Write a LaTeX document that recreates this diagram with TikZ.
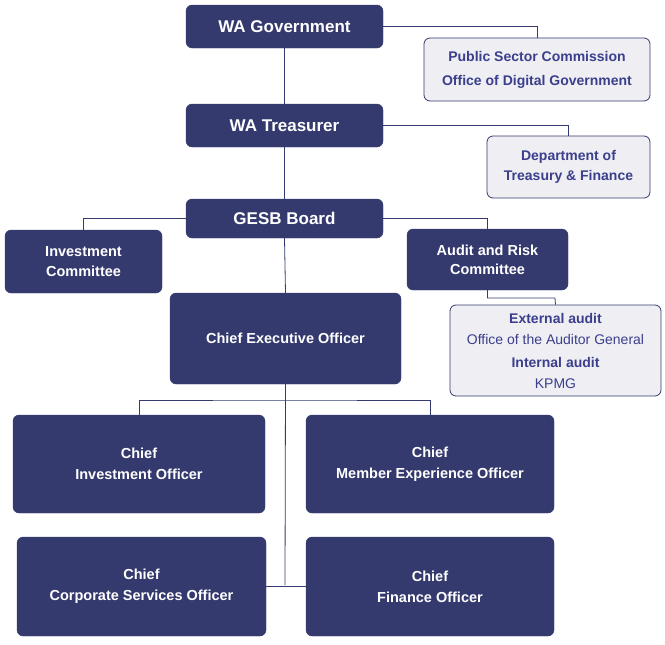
\documentclass[tikz,border=0pt]{standalone}
\usepackage{fontspec}
\setmainfont{Liberation Sans}
\definecolor{navy}{HTML}{343A6E}
\definecolor{paleg}{HTML}{EEEEF3}
\definecolor{inktxt}{HTML}{3B3F8C}
\tikzset{
  dark/.style={draw=navy, fill=navy, rounded corners=6pt, text=white, font=\bfseries, align=center, inner sep=0pt},
  pale/.style={draw=navy, fill=paleg, rounded corners=6pt, text=inktxt, align=center, inner sep=0pt, line width=0.8pt},
  link/.style={draw=navy, line width=0.8pt}
}
\begin{document}
\begin{tikzpicture}[x=1pt, y=-1pt]
				\useasboundingbox (0,0) rectangle (665,645);
				% top chain
				\node[dark, minimum width=197pt, minimum height=43pt, font=\bfseries\fontsize{17}{20}\selectfont] (gov) at (284.5,26.5) {WA Government};
				\node[dark, minimum width=197pt, minimum height=43pt, font=\bfseries\fontsize{17}{20}\selectfont] (treas) at (284.5,125.5) {WA Treasurer};
				\node[dark, minimum width=197pt, minimum height=39pt, font=\bfseries\fontsize{17}{20}\selectfont] (board) at (284.5,218.5) {GESB Board};
				\node[dark, minimum width=231pt, minimum height=91pt, font=\bfseries\fontsize{14.5}{18}\selectfont] (ceo) at (285.5,338.5) {Chief Executive Officer};

				% side boxes
				\node[pale, minimum width=226pt, minimum height=63pt, font=\bfseries\fontsize{14}{24}\selectfont] (psc) at (537,69.5) {Public Sector Commission\\Office of Digital Government};
				\node[pale, minimum width=163pt, minimum height=62pt, font=\bfseries\fontsize{14}{20}\selectfont] (dtf) at (568.5,167) {Department of\\Treasury \& Finance};
				\node[dark, minimum width=157pt, minimum height=63pt, font=\bfseries\fontsize{14.5}{20}\selectfont] (inv) at (83.5,261.5) {Investment\\Committee};
				\node[dark, minimum width=161pt, minimum height=61pt, font=\bfseries\fontsize{14.5}{19}\selectfont] (arc) at (487.5,259.5) {Audit and Risk\\Committee};
				\node[pale, minimum width=211pt, minimum height=91pt, font=\fontsize{14}{21}\selectfont] (aud) at (555.5,350.5) {\textbf{External audit}\\Office of the Auditor General\\[2pt]\textbf{Internal audit}\\KPMG};

				% chiefs
				\node[dark, minimum width=252pt, minimum height=98pt, font=\bfseries\fontsize{14.5}{21}\selectfont] (cio) at (139,464) {Chief\\Investment Officer};
				\node[dark, minimum width=248pt, minimum height=98pt, font=\bfseries\fontsize{14.5}{21}\selectfont] (cmeo) at (430,464) {Chief\\Member Experience Officer};
				\node[dark, minimum width=249pt, minimum height=99pt, font=\bfseries\fontsize{14.5}{21}\selectfont] (cso) at (141.5,586.5) {Chief\\Corporate Services Officer};
				\node[dark, minimum width=248pt, minimum height=99pt, font=\bfseries\fontsize{14.5}{21}\selectfont] (cfo) at (430,586.5) {Chief\\Finance Officer};

				% connectors
				\coordinate (split) at (285,400);
				\coordinate (foot) at (285,585);
				\draw[link] (gov.south) -- (treas.north);
				\draw[link] (treas.south) -- (board.north);
				\draw[link] (board.south) -- (ceo.north);
				\draw[link] (gov.east) -| (psc.north);
				\draw[link] (treas.east) -| (dtf.north);
				\draw[link] (board.west) -| (inv.north);
				\draw[link] (board.east) -| (arc.north);
				\draw[link] (arc.south) |- (555,298) -- (aud.north);
				\draw[link] (ceo.south) -- (foot);
				\draw[link] (cio.north) |- (split) -| (cmeo.north);
				\draw[link] (cso.east) -- (cfo.west);
			\end{tikzpicture}
\end{document}
